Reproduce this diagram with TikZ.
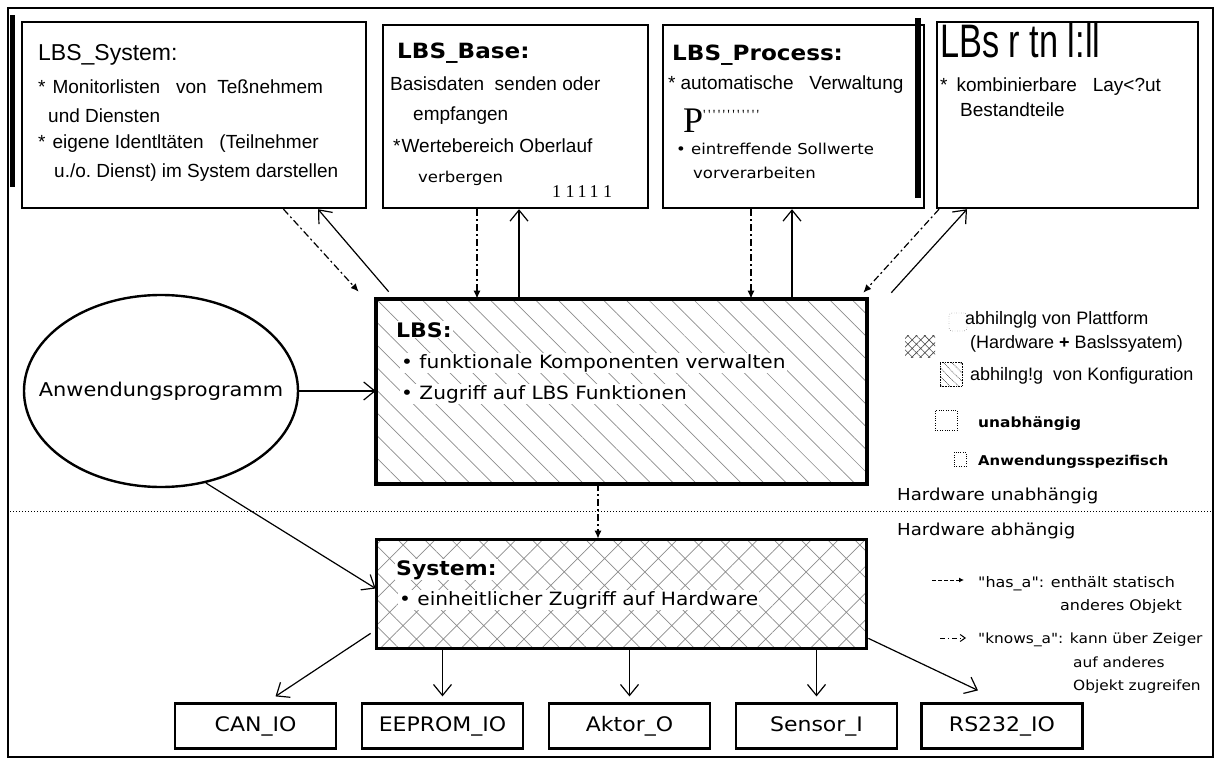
\documentclass[tikz,border=0pt]{standalone}
\usepackage{fontspec}
\setmainfont{Liberation Sans}
\newfontfamily\plotfont[FakeStretch=1.1]{DejaVu Sans}
\newfontfamily\ocrserif{Liberation Serif}
\usetikzlibrary{arrows.meta, calc, patterns.meta, shapes.geometric}

\begin{document}
\begin{tikzpicture}[
   x=1pt, y=-1pt,
   >={Straight Barb[length=11pt,width=18pt]},
   ocr/.style={anchor=base west, inner sep=0pt, font=\fontsize{#1}{#1}\selectfont},
   ocr/.default=19,
   plot/.style={anchor=base west, inner sep=0pt, font=\plotfont\fontsize{#1}{#1}\selectfont},
   plot/.default=18.3,
   upbox/.style={draw, line width=2.4pt, inner sep=0pt},
   iobox/.style={draw, line width=2.2pt, inner sep=0pt, minimum width=161pt,
                 minimum height=45pt, font=\plotfont\fontsize{20}{20}\selectfont},
   lbshatch/.style={pattern={Lines[angle=-45,distance=16pt,line width=0.7pt]},
                    pattern color=black!45},
   syshatch/.style={pattern={Hatch[angle=45,distance=19pt,line width=0.7pt]},
                    pattern color=black!45},
   onhatch/.style={fill=white, inner sep=1pt},
   uses/.style={->, line width=1.2pt},
   hasa/.style={-{Latex[length=8pt,width=7pt]}, line width=1.2pt,
                dash pattern=on 7pt off 3pt on 2pt off 3pt},
]
\useasboundingbox (0,0) rectangle (1221,760);

% ---- frame ----
\draw[line width=1.6pt] (8,8) rectangle (1213,757);
\fill (10,15) rectangle (15,187);
\fill (915,18) rectangle (921,198);

% ---- upper boxes ----
\node[upbox, minimum width=344pt, minimum height=186pt] (lsys) at (194,115) {};
\node[upbox, minimum width=265pt, minimum height=183pt] (base) at (515.5,116.5) {};
\node[upbox, minimum width=261pt, minimum height=183pt] (proc) at (793.5,116.5) {};
\node[upbox, minimum width=261pt, minimum height=186pt] (layout) at (1067.5,115) {};

\node[ocr=23] (lsys-t) at (38,60) {LBS\_System:};
\node[ocr] (lsys-1) at (38,93) {*\hspace{7pt}Monitorlisten\ \ \ von\ \ Teßnehmem};
\node[ocr] (lsys-2) at (48,122) {und Diensten};
\node[ocr] (lsys-3) at (38,148) {*\hspace{7pt}eigene\ Identltäten\ \ \ (Teilnehmer};
\node[ocr] (lsys-4) at (54,177) {u./o.\ Dienst)\ im\ System\ darstellen};

\node[plot=21] (base-t) at (397,59) {\bfseries LBS\_Base:};
\node[ocr] (base-1) at (390,91) {Basisdaten\ \ senden\ oder};
\node[ocr] (base-2) at (413,121) {empfangen};
\node[ocr] (base-3) at (393,152) {*\hspace{1pt}Wertebereich\ Oberlauf};
\node[plot=15] (base-4) at (418,182) {verbergen};
\node[anchor=base west, inner sep=0pt, font=\ocrserif\fontsize{18}{18}\selectfont]
   (base-5) at (552,197) {1 1\,1\,1 1};

\node[plot=21] (proc-t) at (672,60) {\bfseries LBS\_Process:};
\node[ocr] (proc-1) at (668,89) {*\hspace{5pt}automatische\ \ \ Verwaltung};
\node[anchor=base west, inner sep=0pt, font=\ocrserif] (proc-2) at (683,132)
   {\fontsize{36}{36}\selectfont P\raisebox{13pt}{\fontsize{14}{14}\selectfont '\,'\,'\,'\,'\,'\,'\,'\,'\,'\,'\,'}};
\node[plot=15] (proc-3) at (676,154) {•\ eintreffende Sollwerte};
\node[plot=15] (proc-4) at (693,178) {vorverarbeiten};

\node[ocr=47] (layout-t) at (940,58) {\scalebox{0.73}[1]{LBs r tn l:ll}};
\node[ocr] (layout-1) at (940,92) {*\hspace{9pt}kombinierbare\ \ \ Lay<?ut};
\node[ocr] (layout-2) at (960,117) {Bestandteile};

% ---- LBS and System ----
\node[draw, line width=3.5pt, minimum width=491pt, minimum height=185pt, lbshatch]
   (lbs) at (621.5,391.5) {};
\node[plot=20, onhatch] (lbs-t) at (395,337) {\bfseries LBS:};
\node[plot, onhatch] (lbs-1) at (400,368) {•\ funktionale Komponenten verwalten};
\node[plot, onhatch] (lbs-2) at (400,399) {•\ Zugriff auf LBS Funktionen};

\node[draw, line width=3pt, minimum width=490pt, minimum height=109pt, syshatch]
   (system) at (621,593.5) {};
\node[plot=20, onhatch] (system-t) at (395,575) {\bfseries System:};
\node[plot, onhatch] (system-1) at (398,605) {•\ einheitlicher Zugriff auf Hardware};

% ---- application ----
\node[ellipse, draw, line width=2.4pt, minimum width=274pt, minimum height=192pt,
      inner sep=0pt] (app) at (161,391) {};
\node[inner sep=0pt, font=\plotfont\fontsize{19}{19}\selectfont] (app-t) at (app.center)
   {Anwendungsprogramm};

% ---- hardware line ----
\coordinate (hwl) at (10,511);
\coordinate (hwr) at (1213,511);
\draw[dotted, line width=1pt] (hwl) -- (hwr);
\node[plot=16.5] (hw-up) at (897,500) {Hardware unabhängig};
\node[plot=16.5] (hw-dn) at (897,535) {Hardware abhängig};

% ---- io objects ----
\node[iobox] (can) at (255.5,726) {CAN\_IO};
\node[iobox] (eeprom) at (442.5,726) {EEPROM\_IO};
\node[iobox] (aktor) at (629.5,726) {Aktor\_O};
\node[iobox] (sensor) at (816.5,726) {Sensor\_I};
\node[iobox] (rs232) at (1002,726) {RS232\_IO};

% ---- legend ----
\node[draw, dotted, rounded corners=3pt, minimum width=18pt, minimum height=18pt,
      inner sep=0pt] (lg-plat) at (958,322) {};
\node[inner sep=0pt, minimum width=30pt, minimum height=22pt,
      pattern={Hatch[angle=45,distance=6pt,line width=0.6pt]}, pattern color=black!70]
   (lg-cross) at (920,346) {};
\node[ocr=18] (lg-1) at (965,324) {abhilnglg von Plattform};
\node[ocr=18] (lg-2) at (970,348) {(Hardware \textbf{+} Baslssyatem)};
\node[draw, densely dotted, minimum width=22pt, minimum height=24pt, inner sep=0pt,
      pattern={Lines[angle=-45,distance=6pt,line width=0.6pt]}] (lg-conf) at (951,374) {};
\node[ocr=18] (lg-3) at (970,380) {abhilng!g\ \ von Konfiguration};
\node[draw, dotted, minimum width=22pt, minimum height=20pt, inner sep=0pt]
   (lg-free) at (946,420) {};
\node[plot=14] (lg-4) at (978,427) {\bfseries unabhängig};
\node[draw, dotted, minimum width=12pt, minimum height=14pt, inner sep=0pt]
   (lg-appl) at (960,459) {};
\node[plot=13.5] (lg-5) at (978,465) {\bfseries Anwendungsspezifisch};

\coordinate (has-s) at (932,580);
\coordinate (has-e) at (964,580);
\draw[-{Latex[length=5pt,width=5pt]}, line width=1pt, dash pattern=on 4pt off 2pt]
   (has-s) -- (has-e);
\node[plot=14.5] (has-1) at (978,587) {"has\_a": enthält statisch};
\node[plot=14.5] (has-2) at (1060,610) {anderes Objekt};

\coordinate (knows-s) at (940,638);
\coordinate (knows-e) at (966,638);
\draw[-{Straight Barb[length=5pt,width=7pt]}, line width=1pt,
      dash pattern=on 5pt off 3pt on 1pt off 3pt] (knows-s) -- (knows-e);
\node[plot=14] (knows-1) at (978,643) {"knows\_a": kann über Zeiger};
\node[plot=14] (knows-2) at (1073,667) {auf anderes};
\node[plot=14] (knows-3) at (1073,690) {Objekt zugreifen};

% ---- arrows ----
\draw[hasa] ([xshift=89.5pt]lsys.south) -- ([xshift=-17pt,yshift=7pt]lbs.north west);
\draw[uses] ([xshift=13pt,yshift=7pt]lbs.north west) -- ([xshift=124pt]lsys.south);
\draw[hasa] ($(base.south)+(-38.5,0)$) -- ($(base.south |- lbs.north)+(-38.5,0)$);
\draw[uses] ($(base.south |- lbs.north)+(3.5,0)$) -- ($(base.south)+(3.5,0)$);
\draw[hasa] ($(proc.south)+(-42.5,0)$) -- ($(proc.south |- lbs.north)+(-42.5,0)$);
\draw[uses] ($(proc.south |- lbs.north)+(-1.5,0)$) -- ($(proc.south)+(-1.5,0)$);
\draw[hasa] ([xshift=-128.5pt]layout.south) -- ([xshift=-4pt,yshift=6pt]lbs.north east);
\draw[uses] ([xshift=24pt,yshift=6pt]lbs.north east) -- ([xshift=-100.5pt]layout.south);

\draw[uses] (app.east) -- (app.east -| lbs.west);
\draw[uses] (app.-64) -- ([yshift=5pt]system.west);
\draw[hasa] ($(lbs.south)+(-23.5,0)$) -- ($(lbs.south |- system.north)+(-23.5,0)$);

\draw[uses] ([xshift=-5pt,yshift=15pt]system.south west) -- ([xshift=20pt,yshift=6pt]can.north);
\foreach \n in {eeprom, aktor, sensor}
   \draw[uses, shorten >=6pt] (\n.north |- system.south) -- (\n.north);
\draw[uses] ([xshift=2pt,yshift=10pt]system.south east) -- ([xshift=-24pt,yshift=12pt]rs232.north);
\end{tikzpicture}
\end{document}
